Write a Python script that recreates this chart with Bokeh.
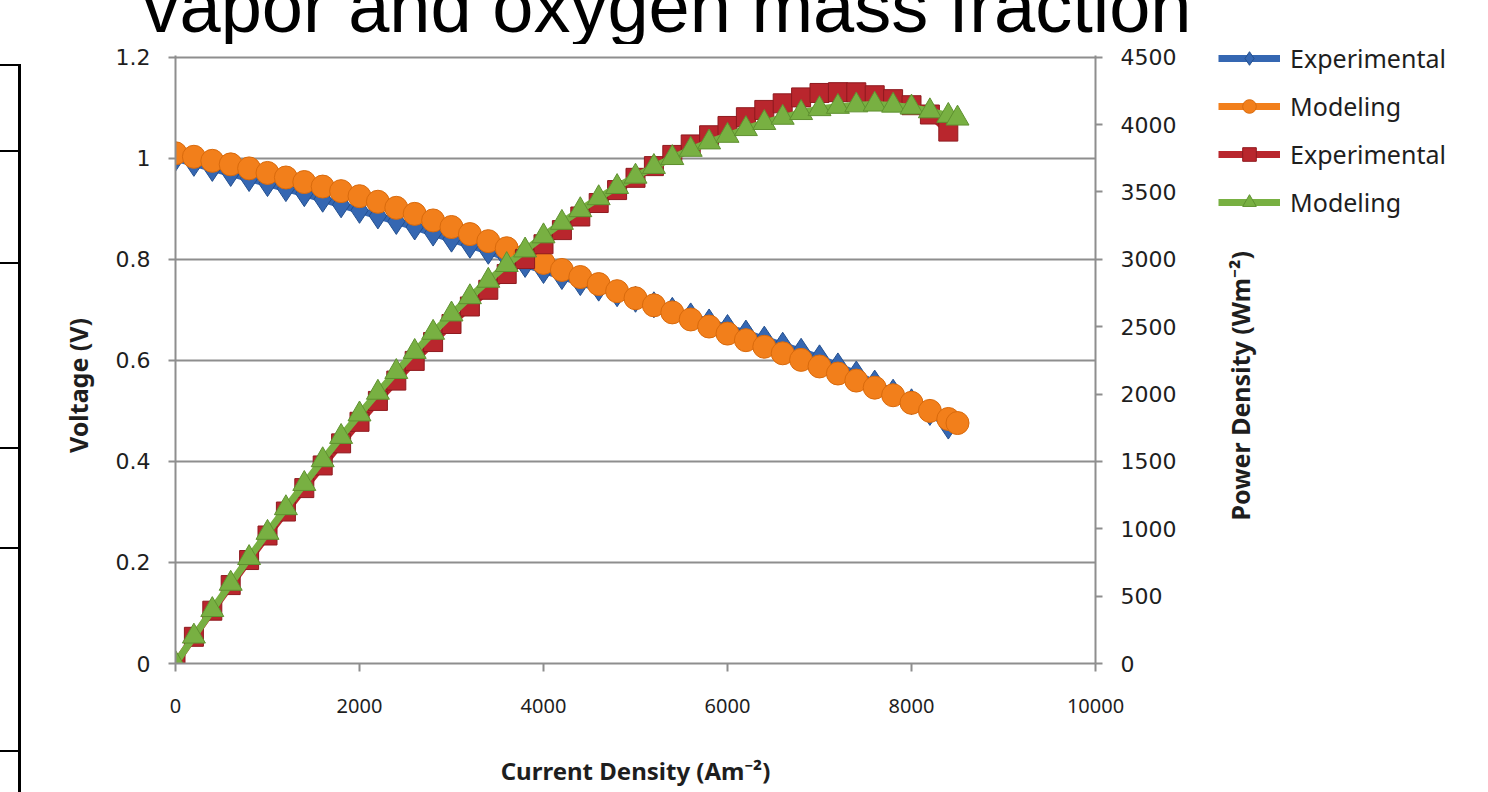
import math
from bokeh.plotting import figure
from bokeh.models import (Range1d, LinearAxis, FixedTicker, NumeralTickFormatter,
                          Legend, LegendItem, Div)
from bokeh.layouts import column, row
from bokeh.embed import file_html
from bokeh.resources import INLINE

# ---------------- data ----------------
current_exp = [0, 200, 400, 600, 800, 1000, 1200, 1400, 1600, 1800, 2000, 2200, 2400, 2600,
               2800, 3000, 3200, 3400, 3600, 3800, 4000, 4200, 4400, 4600, 4800, 5000, 5200,
               5400, 5600, 5800, 6000, 6200, 6400, 6600, 6800, 7000, 7200, 7400, 7600, 7800,
               8000, 8200, 8400]
voltage_exp = [1.000, 0.990, 0.980, 0.970, 0.960, 0.950, 0.940, 0.930, 0.919, 0.908, 0.897,
               0.886, 0.875, 0.864, 0.852, 0.840, 0.828, 0.816, 0.803, 0.790, 0.778, 0.766,
               0.754, 0.743, 0.732, 0.721, 0.710, 0.699, 0.688, 0.676, 0.665, 0.654, 0.642,
               0.630, 0.618, 0.605, 0.589, 0.573, 0.555, 0.537, 0.518, 0.497, 0.470]
power_exp = [0, 198, 392, 582, 768, 950, 1128, 1302, 1470, 1634, 1794, 1949, 2100, 2246, 2386,
             2520, 2650, 2774, 2891, 3002, 3112, 3217, 3318, 3418, 3514, 3605, 3692, 3775, 3853,
             3921, 3990, 4055, 4109, 4158, 4202, 4235, 4241, 4240, 4218, 4189, 4144, 4075, 3948]

current_mod = [0, 200, 400, 600, 800, 1000, 1200, 1400, 1600, 1800, 2000, 2200, 2400, 2600,
               2800, 3000, 3200, 3400, 3600, 3800, 4000, 4200, 4400, 4600, 4800, 5000, 5200,
               5400, 5600, 5800, 6000, 6200, 6400, 6600, 6800, 7000, 7200, 7400, 7600, 7800,
               8000, 8200, 8400, 8500]
voltage_mod = [1.010, 1.003, 0.995, 0.988, 0.980, 0.971, 0.962, 0.953, 0.944, 0.935, 0.925,
               0.914, 0.902, 0.890, 0.877, 0.864, 0.850, 0.836, 0.822, 0.807, 0.793, 0.779,
               0.765, 0.751, 0.737, 0.723, 0.709, 0.695, 0.681, 0.667, 0.653, 0.640, 0.627,
               0.614, 0.601, 0.588, 0.574, 0.560, 0.546, 0.531, 0.516, 0.500, 0.484, 0.476]
power_mod = [0, 201, 398, 593, 784, 971, 1154, 1334, 1510, 1683, 1850, 2011, 2165, 2314, 2456,
             2592, 2720, 2842, 2959, 3067, 3172, 3272, 3366, 3455, 3538, 3615, 3687, 3753, 3814,
             3869, 3918, 3968, 4013, 4052, 4087, 4116, 4133, 4144, 4150, 4142, 4128, 4100, 4066,
             4046]

x_ticks = [0, 2000, 4000, 6000, 8000, 10000]
v_ticks = [0, 0.2, 0.4, 0.6, 0.8, 1, 1.2]
p_ticks = [0, 500, 1000, 1500, 2000, 2500, 3000, 3500, 4000, 4500]

series_labels = ["Experimental", "Modeling", "Experimental", "Modeling"]
heading_text = "vapor and oxygen mass fraction"
x_title = "Current Density (Am\u207b\u00b2)"
y_title = "Voltage (V)"
y2_title = "Power Density (Wm\u207b\u00b2)"

# ---------------- styles ----------------
BLUE, BLUE_D = "#3567b2", "#24508f"
ORANGE, ORANGE_D = "#f27f1b", "#d96a0c"
RED, RED_D = "#b9262d", "#8f1a1f"
GREEN, GREEN_D = "#78b042", "#5f9130"
GRID = "#8e8e8e"
TXT = "#1e1e1e"
NBSP = "\u00a0"

TOP_H = 44
LEFT_W = 22
PAD = 1.0029   # a hair of headroom so the top gridline is not cut by the frame edge

p = figure(frame_width=920, frame_height=608, output_backend="svg", toolbar_location=None,
           x_range=Range1d(0, 10000), y_range=Range1d(0, 1.2 * PAD),
           min_border_left=175 - LEFT_W, min_border_right=0,
           min_border_top=57 - TOP_H - 2, min_border_bottom=120)
p.outline_line_color = None
p.background_fill_color = "white"
p.border_fill_color = "white"
p.extra_y_ranges = {"power": Range1d(0, 4500 * PAD)}

# x axis
xa = p.xaxis[0]
xa.ticker = FixedTicker(ticks=x_ticks)
xa.axis_line_color = GRID
xa.axis_line_width = 2
xa.major_tick_line_color = GRID
xa.major_tick_line_width = 2
xa.major_tick_in = 0
xa.major_tick_out = 8
xa.minor_tick_line_color = None
xa.major_label_text_font = "Noto Sans"
xa.major_label_text_font_size = "20px"
xa.major_label_text_color = TXT
xa.major_label_standoff = 27
xa.axis_label = x_title
xa.axis_label_text_font = "Noto Sans"
xa.axis_label_text_font_style = "bold"
xa.axis_label_text_font_size = "24px"
xa.axis_label_text_color = TXT
xa.axis_label_standoff = 38

# left axis (title nudged below centre, as in the reference)
ya = p.yaxis[0]
ya.ticker = FixedTicker(ticks=v_ticks)
ya.formatter = NumeralTickFormatter(format="0.[0]")
ya.axis_line_color = GRID
ya.axis_line_width = 2
ya.major_tick_line_color = GRID
ya.major_tick_line_width = 2
ya.major_tick_in = 0
ya.major_tick_out = 7
ya.minor_tick_line_color = None
ya.major_label_text_font = "DejaVu Sans"
ya.major_label_text_font_size = "22px"
ya.major_label_text_color = TXT
ya.major_label_standoff = 18
ya.axis_label = y_title + NBSP * 8
ya.axis_label_text_font = "Noto Sans"
ya.axis_label_text_font_style = "bold"
ya.axis_label_text_font_size = "25px"
ya.axis_label_text_color = TXT
ya.axis_label_standoff = 18

# right axis (title reads bottom to top)
ra = LinearAxis(y_range_name="power", ticker=FixedTicker(ticks=p_ticks))
ra.axis_line_color = GRID
ra.axis_line_width = 2
ra.major_tick_line_color = GRID
ra.major_tick_line_width = 2
ra.major_tick_in = 0
ra.major_tick_out = 7
ra.minor_tick_line_color = None
ra.major_label_text_font = "DejaVu Sans"
ra.major_label_text_font_size = "22px"
ra.major_label_text_color = TXT
ra.major_label_standoff = 18
ra.axis_label = NBSP * 22 + y2_title
ra.axis_label_orientation = math.pi / 2
ra.axis_label_align = "start"
ra.axis_label_text_font = "Noto Sans"
ra.axis_label_text_font_style = "bold"
ra.axis_label_text_font_size = "25px"
ra.axis_label_text_color = TXT
ra.axis_label_standoff = 61
p.add_layout(ra, "right")

p.xgrid.visible = False
p.ygrid.ticker = FixedTicker(ticks=v_ticks)
p.ygrid.grid_line_color = GRID
p.ygrid.grid_line_width = 2

# series
l1 = p.line(current_exp, voltage_exp, line_color=BLUE, line_width=7)
s1 = p.scatter(current_exp, voltage_exp, marker="diamond", size=26, fill_color=BLUE,
               line_color=BLUE_D, line_width=1)
l2 = p.line(current_mod, voltage_mod, line_color=ORANGE, line_width=7)
s2 = p.scatter(current_mod, voltage_mod, marker="circle", size=23, fill_color=ORANGE,
               line_color=ORANGE_D, line_width=1)
l3 = p.line(current_exp, power_exp, line_color=RED, line_width=7, y_range_name="power")
s3 = p.scatter(current_exp, power_exp, marker="square", size=19, fill_color=RED,
               line_color=RED_D, line_width=1, y_range_name="power")
l4 = p.line(current_mod, power_mod, line_color=GREEN, line_width=7, y_range_name="power")
s4 = p.scatter(current_mod, power_mod, marker="triangle", size=23, fill_color=GREEN,
               line_color=GREEN_D, line_width=1, y_range_name="power")

legend = Legend(items=[LegendItem(label=series_labels[0], renderers=[l1, s1]),
                       LegendItem(label=series_labels[1], renderers=[l2, s2]),
                       LegendItem(label=series_labels[2], renderers=[l3, s3]),
                       LegendItem(label=series_labels[3], renderers=[l4, s4])],
                location=(-278, 444), glyph_width=62, glyph_height=34, spacing=14,
                padding=0, margin=0, border_line_color=None, background_fill_alpha=0,
                label_text_font="Noto Sans", label_text_font_size="25px",
                label_text_color=TXT, label_standoff=10, label_height=34)
p.add_layout(legend, "right")

# cropped heading of the document page, above the chart
heading_html = (
    '<div style="position:relative;width:1488px;height:%dpx;overflow:hidden;">'
    '<div style="position:absolute;left:0px;top:-30px;width:1334px;text-align:center;'
    "font-family:'Liberation Sans';font-size:74px;line-height:74px;white-space:nowrap;"
    'color:#000;">%s</div></div>' % (TOP_H, heading_text))
top_div = Div(text=heading_html, width=1488, height=TOP_H, margin=0)

# border lines of the page's table, at the left edge
row_lines = [64, 150, 262, 447, 547, 750]
parts = ['<div style="position:relative;width:%dpx;height:%dpx;overflow:hidden;">'
         % (LEFT_W, 792 - TOP_H),
         '<div style="position:absolute;left:18px;top:%dpx;width:3px;height:%dpx;'
         'background:#000;"></div>' % (row_lines[0] - TOP_H, 792 - row_lines[0])]
for yy in row_lines:
    parts.append('<div style="position:absolute;left:0px;top:%dpx;width:20px;height:2px;'
                 'background:#000;"></div>' % (yy - TOP_H))
parts.append('</div>')
left_div = Div(text="".join(parts), width=LEFT_W, height=792 - TOP_H, margin=0)

layout = column(top_div, row(left_div, p, spacing=0), spacing=0)

open("out.html", "w").write(file_html(layout, INLINE))
